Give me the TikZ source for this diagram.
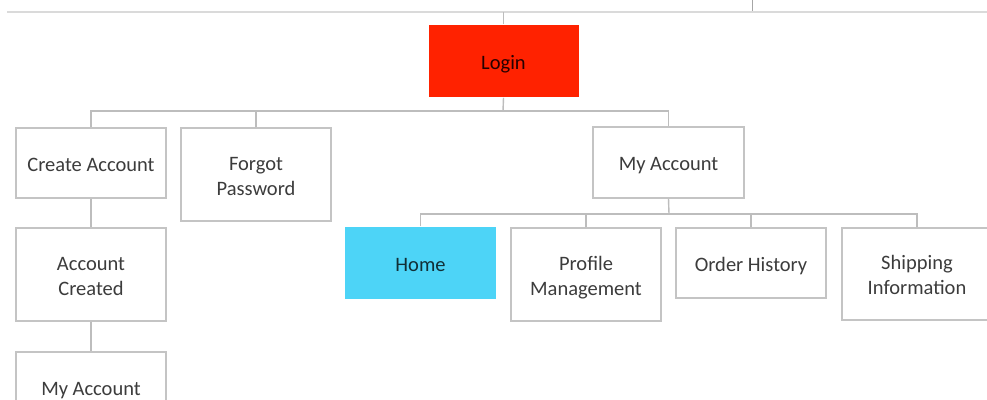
\documentclass[tikz,border=0pt]{standalone}
\usepackage{fontspec}
\setmainfont{Carlito}
\definecolor{boxline}{HTML}{C4C4C4}
\definecolor{wireline}{HTML}{BDBDBD}
\definecolor{topline}{HTML}{DADADA}
\definecolor{labeltext}{HTML}{3C3C3C}
\definecolor{loginred}{HTML}{FF2200}
\definecolor{homeblue}{HTML}{4DD4F7}
\tikzset{
  page/.style={draw, line width=1.5pt, color=boxline, text=labeltext,
    minimum width=150pt, inner sep=0pt, align=center,
    text height=18pt, text depth=2pt,
    font=\fontsize{20.5}{25}\selectfont},
  wire/.style={draw=wireline, line width=1.4pt},
  shortpage/.style={page, minimum height=70pt},
  tallpage/.style={page, minimum height=93pt, text height=43pt},
}
\begin{document}
\begin{tikzpicture}[x=1pt, y=-1pt]
  \clip (0,0) rectangle (987,399);
  \fill[white] (0,0) rectangle (987,399);

  % header rule and marker
  \coordinate (ruleL) at (7,12);
  \coordinate (ruleR) at (987,12);
  \coordinate (tickA) at (752,0);
  \coordinate (tickB) at (752,11);
  \draw[topline, line width=2pt] (ruleL) -- (ruleR);
  \draw[gray!70, line width=1pt] (tickA) -- (tickB);

  % pages
  \node[shortpage, fill=loginred, draw=none, text=black!85!red, minimum height=72pt] (login) at (503.5,61) {Login};
  \node[shortpage] (create) at (91,163) {Create Account};
  \node[tallpage] (forgot) at (256,174.5) {Forgot\\Password};
  \node[shortpage, minimum width=151pt, minimum height=71pt] (myacc) at (668.5,162.5) {My Account};
  \node[tallpage] (created) at (91,274.5) {Account\\Created};
  \node[shortpage] (myacc2) at (91,387) {My Account};
  \node[shortpage, fill=homeblue, draw=none, text=homeblue!22!black, minimum width=151pt, minimum height=72pt] (home) at (420.5,263) {Home};
  \node[tallpage] (profile) at (586,274.5) {Profile\\Management};
  \node[shortpage, minimum height=70pt] (order) at (751,263) {Order History};
  \node[tallpage, minimum height=92pt] (shipping) at (917,274) {Shipping\\Information};

  % connectors
  \coordinate (bus1) at (503,111);
  \coordinate (bus2) at (669,214);
  \draw[wire] (login.north) -- (login.north |- ruleL);
  \draw[wire] (login.south) -- (bus1);
  \draw[wire] (create.north) |- (bus1);
  \draw[wire] (myacc.north) |- (bus1);
  \draw[wire] (forgot.north) -- (forgot.north |- bus1);
  \draw[wire] (create.south) -- (created.north);
  \draw[wire] (created.south) -- (myacc2.north);
  \draw[wire] (myacc.south) -- (bus2);
  \draw[wire] (home.north) |- (bus2);
  \draw[wire] (shipping.north) |- (bus2);
  \draw[wire] (profile.north) -- (profile.north |- bus2);
  \draw[wire] (order.north) -- (order.north |- bus2);
\end{tikzpicture}
\end{document}
